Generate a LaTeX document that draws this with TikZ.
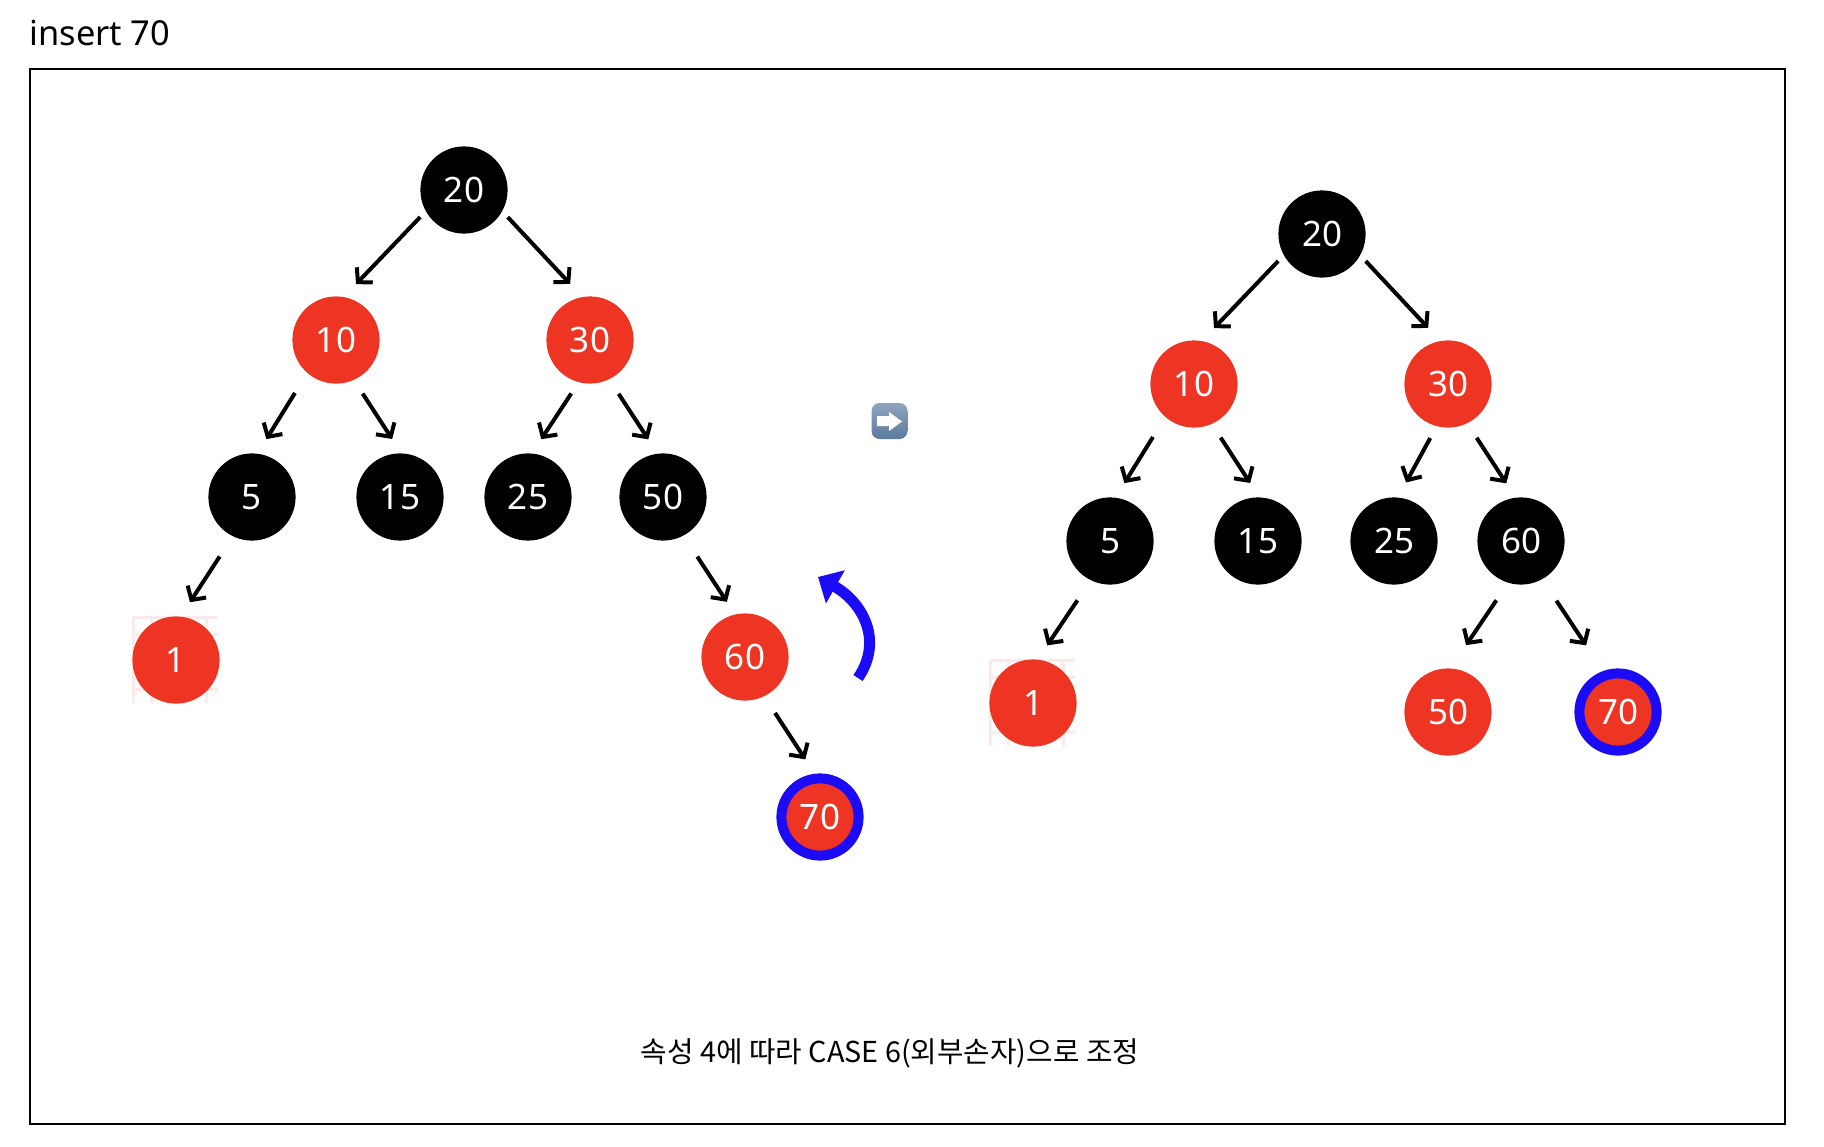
\documentclass[tikz,border=0pt]{standalone}
\usepackage{fontspec}
\setmainfont{Noto Sans}
\newfontfamily\krfont{Noto Sans CJK KR}
\usepackage{xcolor}
\usetikzlibrary{arrows.meta, positioning}

\definecolor{nodered}{HTML}{EE3524}
\definecolor{markblue}{HTML}{1C0CF5}
\definecolor{gridpink}{HTML}{FCE9E9}
\definecolor{emojitop}{HTML}{8FA4BF}
\definecolor{emojibot}{HTML}{5B7A9C}

\begin{document}
\begin{tikzpicture}[x=0.5pt,y=-0.5pt,node distance=75pt and 64pt,on grid]
  \tikzset{
    bnode/.style={circle,fill=black,text=white,minimum size=43.6pt,inner sep=0pt,outer sep=0pt,font=\fontsize{17.5}{20}\selectfont},
    rnode/.style={bnode,fill=nodered},
    cnode/.style={rnode,draw=markblue,line width=5pt,minimum size=38.6pt,outer sep=2.5pt},
    edge/.style 2 args={draw,line width=2pt,-{Straight Barb[length=5pt,width=11pt]},shorten <=#1pt,shorten >=#2pt},
    emoji/.style={rounded corners=4pt,minimum size=18pt,inner sep=0pt,top color=emojitop,bottom color=emojibot},
    rotarrow/.style={draw=markblue,line width=5.5pt,-{Triangle[length=10pt,width=18.5pt]}}
  }

  \useasboundingbox (0,0) rectangle (1824,1146);
  \draw[line width=1pt] (30,69) rectangle (1785,1124);
  \node[anchor=west,inner sep=0pt,font=\fontsize{17.2}{20}\selectfont] (title) at (29,33) {insert 70};

  % faint grid behind the two 1 nodes
  \foreach \cx/\cy in {176/660,1033/703} {
    \foreach \d in {-43,-25,30}
      \draw[gridpink,line width=1.5pt] (\cx+\d,\cy-43) -- (\cx+\d,\cy+43);
    \foreach \d in {-43,-26,29}
      \draw[gridpink,line width=1.5pt] (\cx-43,\cy+\d) -- (\cx+42,\cy+\d);
  }

  % before
  \node[bnode] (l20) at (464,190) {20};
  \node[rnode] (l10) [below left=75pt and 64pt of l20] {10};
  \node[rnode] (l30) [below right=75pt and 63pt of l20] {30};
  \node[bnode] (l5)  [below left=78.5pt and 42pt of l10] {5};
  \node[bnode] (l15) [below right=78.5pt and 32pt of l10] {15};
  \node[bnode] (l25) [below left=78.5pt and 31pt of l30] {25};
  \node[bnode] (l50) [below right=78.5pt and 36.5pt of l30] {50};
  \node[rnode] (l1)  [below left=81.5pt and 38pt of l5] {1};
  \node[rnode] (l60) [below right=80pt and 41pt of l50] {60};
  \node[cnode] (l70) [below right=80pt and 37.5pt of l60] {70};

  % after
  \node[bnode] (r20) at (1322,234) {20};
  \node[rnode] (r10) [below left=75pt and 64pt of r20] {10};
  \node[rnode] (r30) [below right=75pt and 63pt of r20] {30};
  \node[bnode] (r5)  [below left=78.5pt and 42pt of r10] {5};
  \node[bnode] (r15) [below right=78.5pt and 32pt of r10] {15};
  \node[bnode] (r25) [below left=78.5pt and 27pt of r30] {25};
  \node[bnode] (r60) [below right=78.5pt and 36.5pt of r30] {60};
  \node[rnode] (r1)  [below left=81pt and 38.5pt of r5] {1};
  \node[rnode] (r50) [below left=85.5pt and 36.5pt of r60] {50};
  \node[cnode] (r70) [below right=85.5pt and 48.5pt of r60] {70};

  \draw[edge={4.1}{9}] (l20.209) -- (l10.80);
  \draw[edge={4.1}{9}] (l20.331) -- (l30.100);
  \draw[edge={11.8}{8.6}] (l10.229) -- (l5.83);
  \draw[edge={8.2}{8.6}] (l10.294) -- (l15.88);
  \draw[edge={6.8}{8.6}] (l30.255) -- (l25.85);
  \draw[edge={8.7}{8.6}] (l30.296) -- (l50.97);
  \draw[edge={12.1}{8.6}] (l5.244) -- (l1.84);
  \draw[edge={12.6}{7.6}] (l50.298) -- (l60.103);
  \draw[edge={10}{8.6}] (l60.296) -- (l70.97);

  \draw[edge={4.1}{9}] (r20.209) -- (r10.80);
  \draw[edge={4.1}{9}] (r20.331) -- (r30.100);
  \draw[edge={11.8}{8.6}] (r10.229) -- (r5.83);
  \draw[edge={8.2}{8.6}] (r10.294) -- (r15.88);
  \draw[edge={6.8}{8.6}] (r30.255) -- (r25.85);
  \draw[edge={8.7}{8.6}] (r30.296) -- (r60.97);
  \draw[edge={12.1}{8.6}] (r5.244) -- (r1.84);
  \draw[edge={10.6}{14.1}] (r60.253) -- (r50.87);
  \draw[edge={12.9}{15.4}] (r60.299) -- (r70.110);

  % rotation mark
  \coordinate (rotfrom) at (858,678);
  \coordinate (rotto) at (818,577);
  \draw[rotarrow] (rotfrom) .. controls (884,640) and (862,602) .. (rotto);

  % arrow between the trees
  \node[emoji] (go) at (889.5,421) {};
  \fill[white] (877,416) -- (889,416) -- (889,412) -- (902,421.5) -- (889,431) -- (889,426) -- (877,426) -- cycle;

  \node[font=\krfont\fontsize{14.4}{16}\selectfont] (note) at (890,1053) {속성 4에 따라 CASE 6(외부손자)으로 조정};
\end{tikzpicture}
\end{document}
